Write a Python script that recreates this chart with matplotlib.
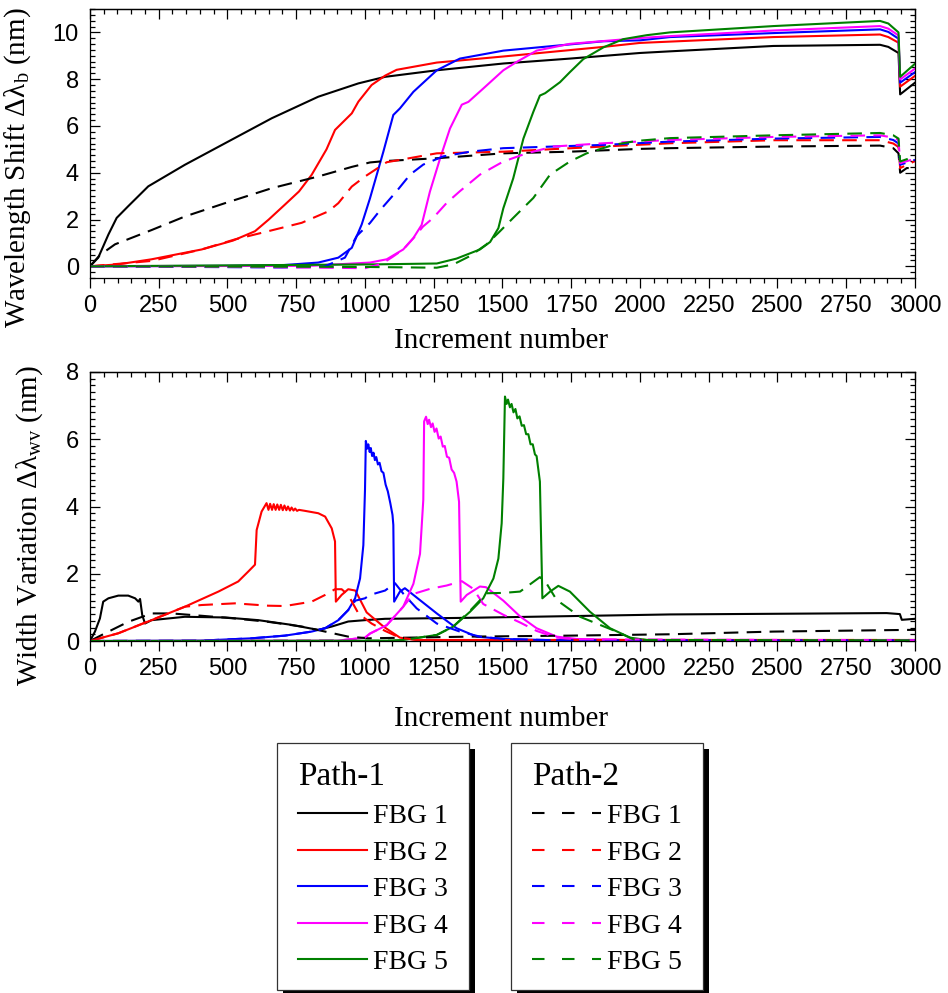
import matplotlib
matplotlib.use('Agg')
import matplotlib.pyplot as plt
from matplotlib.ticker import MultipleLocator
from matplotlib.patches import Rectangle
from matplotlib.lines import Line2D

plt.rcParams['font.family'] = 'Liberation Sans'
plt.rcParams['mathtext.fontset'] = 'custom'
plt.rcParams['mathtext.rm'] = 'Liberation Serif'
plt.rcParams['mathtext.it'] = 'Liberation Serif:italic'

colors = ['black', 'red', 'blue', 'magenta', 'green']
fbg_labels = ['FBG 1', 'FBG 2', 'FBG 3', 'FBG 4', 'FBG 5']

# ---------------- Wavelength shift, Path-1 (solid) ----------------
shift_p1_fbg1 = [(0, 0), (30, 0.37), (67, 1.36), (97, 2.07), (139, 2.57), (212, 3.42), (345, 4.34),
                 (491, 5.26), (661, 6.33), (830, 7.25), (976, 7.82), (1073, 8.1), (1261, 8.38),
                 (1503, 8.67), (1745, 8.88), (2000, 9.12), (2109, 9.19), (2485, 9.42), (2873, 9.47),
                 (2903, 9.38), (2940, 9.12), (2946, 7.35), (3000, 7.85)]
shift_p1_fbg2 = [(0, 0), (100, 0.08), (224, 0.3), (406, 0.72), (520, 1.1), (600, 1.5), (650, 2.0),
                 (709, 2.64), (760, 3.2), (806, 3.91), (860, 5.0), (891, 5.83), (952, 6.54),
                 (976, 7.04), (1024, 7.75), (1073, 8.15), (1115, 8.4), (1261, 8.71), (1503, 8.97),
                 (1867, 9.38), (2000, 9.55), (2485, 9.8), (2873, 9.91), (2903, 9.8), (2940, 9.56),
                 (2946, 7.68), (3000, 8.14)]
shift_p1_fbg3 = [(0, 0), (500, 0.02), (700, 0.05), (830, 0.16), (903, 0.37), (952, 0.79), (988, 1.79),
                 (1018, 2.9), (1040, 3.8), (1067, 4.91), (1103, 6.47), (1127, 6.75), (1176, 7.46),
                 (1261, 8.38), (1345, 8.88), (1503, 9.22), (1867, 9.62), (2000, 9.66), (2109, 9.8),
                 (2485, 9.97), (2873, 10.13), (2903, 10.02), (2940, 9.73), (2946, 7.85), (3000, 8.3)]
shift_p1_fbg4 = [(0, 0), (800, 0.02), (1018, 0.16), (1079, 0.3), (1139, 0.72), (1176, 1.21),
                 (1206, 1.77), (1236, 3.19), (1273, 4.61), (1309, 5.89), (1352, 6.91), (1376, 7.03),
                 (1430, 7.6), (1503, 8.38), (1552, 8.74), (1624, 9.22), (1745, 9.51), (2000, 9.76),
                 (2109, 9.84), (2485, 10.08), (2873, 10.27), (2903, 10.16), (2940, 9.87),
                 (2946, 7.99), (3000, 8.45)]
shift_p1_fbg5 = [(0, 0), (1018, 0.08), (1261, 0.12), (1333, 0.33), (1418, 0.72), (1455, 1.04),
                 (1485, 1.63), (1503, 2.48), (1539, 3.76), (1576, 5.46), (1612, 6.6), (1636, 7.3),
                 (1655, 7.4), (1709, 7.87), (1745, 8.3), (1794, 8.86), (1867, 9.36), (1939, 9.71),
                 (2024, 9.88), (2109, 10.0), (2485, 10.27), (2873, 10.49), (2903, 10.38),
                 (2940, 10.0), (2946, 8.1), (3000, 8.66)]

# ---------------- Wavelength shift, Path-2 (dashed) ----------------
shift_p2_fbg1 = [(0, 0), (36, 0.48), (91, 0.94), (224, 1.55), (345, 2.13), (491, 2.7), (661, 3.34),
                 (830, 3.84), (952, 4.25), (1018, 4.44), (1073, 4.5), (1261, 4.62), (1503, 4.83),
                 (1745, 4.9), (2000, 5.02), (2109, 5.05), (2485, 5.12), (2873, 5.16), (2921, 5.05),
                 (2940, 4.83), (2946, 4.0), (2970, 4.2), (3000, 4.2)]
shift_p2_fbg2 = [(0, 0), (224, 0.23), (406, 0.72), (527, 1.15), (648, 1.5), (770, 1.86), (867, 2.35),
                 (903, 2.7), (952, 3.41), (1000, 3.84), (1040, 4.15), (1079, 4.45), (1261, 4.83),
                 (1503, 4.9), (1867, 5.12), (2109, 5.26), (2485, 5.39), (2873, 5.39), (2921, 5.25),
                 (2940, 5.1), (2946, 4.2), (3000, 4.5)]
shift_p2_fbg3 = [(0, 0), (400, -0.03), (700, -0.05), (850, -0.02), (927, 0.37), (970, 1.3),
                 (1018, 1.85), (1055, 2.4), (1115, 3.21), (1164, 3.92), (1212, 4.35), (1285, 4.7),
                 (1382, 4.9), (1503, 5.05), (1867, 5.19), (2109, 5.33), (2485, 5.46), (2873, 5.53),
                 (2921, 5.4), (2940, 5.25), (2946, 4.34), (3000, 4.55)]
shift_p2_fbg4 = [(0, 0), (600, -0.03), (1000, -0.08), (1060, 0.1), (1100, 0.4), (1139, 0.72),
                 (1176, 1.2), (1211, 1.7), (1248, 2.07), (1297, 2.71), (1345, 3.21), (1418, 3.92),
                 (1503, 4.48), (1588, 4.83), (1685, 5.12), (1867, 5.26), (2109, 5.4), (2485, 5.53),
                 (2873, 5.6), (2921, 5.5), (2940, 5.4), (2946, 4.41), (3000, 4.6)]
shift_p2_fbg5 = [(0, 0), (800, -0.02), (1018, -0.03), (1261, -0.06), (1321, 0.08), (1382, 0.44),
                 (1442, 0.94), (1491, 1.5), (1539, 2.07), (1612, 2.92), (1673, 3.92), (1745, 4.48),
                 (1806, 4.83), (1903, 5.19), (1988, 5.36), (2109, 5.48), (2485, 5.6), (2873, 5.7),
                 (2921, 5.6), (2940, 5.46), (2946, 4.48), (3000, 4.7)]

# ---------------- Width variation, Path-1 (solid) ----------------
width_p1_fbg1 = [(0, 0), (18, 0.28), (36, 0.67), (48, 1.17), (67, 1.27), (103, 1.35), (139, 1.35),
                 (164, 1.27), (176, 1.17), (182, 1.25), (190, 0.77), (200, 0.52), (224, 0.62),
                 (345, 0.72), (491, 0.7), (612, 0.62), (733, 0.48), (830, 0.33), (879, 0.43),
                 (939, 0.58), (1000, 0.62), (1073, 0.66), (1382, 0.69), (2109, 0.79), (2897, 0.83),
                 (2945, 0.8), (2952, 0.63), (3000, 0.66)]
width_p1_fbg2 = [(0, 0), (103, 0.23), (224, 0.62), (345, 1.02), (467, 1.47), (539, 1.77), (576, 2.07),
                 (600, 2.27), (606, 3.3), (624, 3.85), (642, 4.1), (649, 3.9), (655, 4.08), (662, 3.9),
                 (668, 4.07), (675, 3.9), (681, 4.06), (688, 3.9), (694, 4.05), (701, 3.89),
                 (707, 4.03), (714, 3.89), (720, 4.0), (727, 3.88), (733, 3.97), (740, 3.88),
                 (746, 3.94), (753, 3.87), (760, 3.9), (782, 3.87), (830, 3.8), (855, 3.7),
                 (879, 3.35), (891, 2.96), (894, 1.17), (915, 1.37), (939, 1.54), (965, 1.5),
                 (1006, 0.85), (1067, 0.43), (1127, 0.1), (1188, 0.03), (3000, 0.03)]
width_p1_fbg3 = [(0, 0), (400, 0.01), (588, 0.08), (709, 0.16), (806, 0.28), (855, 0.38), (903, 0.62),
                 (939, 0.92), (964, 1.27), (982, 1.86), (994, 2.85), (1000, 4.5), (1003, 5.95),
                 (1008, 5.72), (1012, 5.85), (1017, 5.62), (1021, 5.74), (1026, 5.5), (1031, 5.6),
                 (1036, 5.38), (1041, 5.47), (1047, 5.25), (1053, 5.3), (1060, 5.05), (1067, 5.0),
                 (1075, 4.65), (1083, 4.45), (1092, 4.1), (1100, 3.75), (1103, 3.45), (1106, 1.17),
                 (1127, 1.47), (1145, 1.57), (1176, 1.37), (1261, 0.82), (1333, 0.38), (1406, 0.13),
                 (1503, 0.06), (1700, 0.02), (3000, 0.02)]
width_p1_fbg4 = [(0, 0), (900, 0.01), (1000, 0.1), (1018, 0.22), (1079, 0.47), (1139, 1.02),
                 (1176, 1.7), (1200, 2.59), (1212, 4.2), (1215, 6.53), (1222, 6.67), (1228, 6.45),
                 (1233, 6.58), (1240, 6.36), (1246, 6.47), (1253, 6.22), (1260, 6.32), (1268, 6.02),
                 (1275, 6.08), (1283, 5.78), (1290, 5.8), (1298, 5.48), (1306, 5.45), (1315, 5.1),
                 (1324, 5.0), (1333, 4.74), (1342, 4.14), (1348, 1.17), (1370, 1.37), (1418, 1.62),
                 (1440, 1.6), (1503, 1.2), (1564, 0.73), (1624, 0.38), (1697, 0.13), (1770, 0.06),
                 (2000, 0.02), (3000, 0.02)]
width_p1_fbg5 = [(0, 0), (1100, 0.01), (1139, 0.03), (1261, 0.18), (1321, 0.43), (1382, 0.87),
                 (1430, 1.27), (1467, 1.86), (1485, 2.45), (1497, 3.5), (1503, 4.83), (1509, 7.27),
                 (1515, 7.05), (1520, 7.18), (1527, 6.95), (1533, 7.05), (1540, 6.8), (1547, 6.9),
                 (1554, 6.62), (1562, 6.68), (1570, 6.4), (1578, 6.42), (1586, 6.15), (1594, 6.15),
                 (1602, 5.85), (1610, 5.85), (1618, 5.55), (1624, 5.5), (1636, 4.74), (1645, 1.27),
                 (1673, 1.47), (1703, 1.64), (1745, 1.47), (1818, 0.87), (1891, 0.38), (1964, 0.1),
                 (2024, 0.03), (3000, 0.02)]

# ---------------- Width variation, Path-2 (dashed) ----------------
width_p2_fbg1 = [(0, 0), (55, 0.23), (139, 0.57), (224, 0.82), (297, 0.82), (406, 0.75), (527, 0.67),
                 (648, 0.57), (770, 0.43), (855, 0.28), (939, 0.13), (1012, 0.08), (1382, 0.13),
                 (1745, 0.16), (2109, 0.2), (2485, 0.28), (2970, 0.33), (3000, 0.33)]
width_p2_fbg2 = [(0, 0), (103, 0.23), (345, 1.02), (406, 1.07), (527, 1.12), (648, 1.05), (709, 1.04),
                 (806, 1.17), (855, 1.37), (891, 1.54), (915, 1.54), (939, 1.37), (976, 0.82),
                 (1024, 0.52), (1073, 0.3), (1127, 0.1), (1188, 0.03), (3000, 0.03)]
width_p2_fbg3 = [(0, 0), (400, 0.01), (588, 0.08), (709, 0.16), (806, 0.28), (855, 0.38), (903, 0.62),
                 (939, 0.92), (965, 1.2), (1000, 1.27), (1018, 1.37), (1073, 1.5), (1109, 1.72),
                 (1140, 1.4), (1188, 0.97), (1261, 0.52), (1345, 0.28), (1418, 0.13), (1503, 0.06),
                 (1700, 0.02), (3000, 0.02)]
width_p2_fbg4 = [(0, 0), (900, 0.01), (1000, 0.1), (1018, 0.22), (1079, 0.47), (1139, 1.02),
                 (1176, 1.4), (1236, 1.55), (1297, 1.65), (1352, 1.78), (1394, 1.55), (1430, 1.1),
                 (1503, 0.78), (1564, 0.55), (1624, 0.3), (1697, 0.1), (1770, 0.05), (3000, 0.02)]
width_p2_fbg5 = [(0, 0), (1100, 0.01), (1139, 0.03), (1261, 0.18), (1321, 0.43), (1382, 0.9),
                 (1442, 1.42), (1503, 1.43), (1564, 1.47), (1636, 1.9), (1661, 1.7), (1697, 1.22),
                 (1782, 0.72), (1842, 0.52), (1915, 0.28), (1976, 0.05), (2024, 0.03), (3000, 0.02)]

shift_p1 = [shift_p1_fbg1, shift_p1_fbg2, shift_p1_fbg3, shift_p1_fbg4, shift_p1_fbg5]
shift_p2 = [shift_p2_fbg1, shift_p2_fbg2, shift_p2_fbg3, shift_p2_fbg4, shift_p2_fbg5]
width_p1 = [width_p1_fbg1, width_p1_fbg2, width_p1_fbg3, width_p1_fbg4, width_p1_fbg5]
width_p2 = [width_p2_fbg1, width_p2_fbg2, width_p2_fbg3, width_p2_fbg4, width_p2_fbg5]

DASH = (7, 4)
W, H = 948, 993
fig = plt.figure(figsize=(W / 100, H / 100), dpi=100)

ax1 = fig.add_axes([90 / W, 1 - 278 / H, 825 / W, 269 / H])
ax2 = fig.add_axes([90 / W, 1 - 641 / H, 825 / W, 269 / H])


def draw(ax, curves, dashed):
    for curve, c in zip(curves, colors):
        xs, ys = zip(*curve)
        line, = ax.plot(xs, ys, color=c, lw=1.5)
        if dashed:
            line.set_dashes(DASH)


def style(ax, ylim, ymajor, yminor):
    ax.set_xlim(0, 3000)
    ax.set_ylim(*ylim)
    ax.xaxis.set_major_locator(MultipleLocator(250))
    ax.xaxis.set_minor_locator(MultipleLocator(50))
    ax.yaxis.set_major_locator(MultipleLocator(ymajor))
    ax.yaxis.set_minor_locator(MultipleLocator(yminor))
    ax.tick_params(axis='x', which='both', direction='out', top=False, labelsize=17, pad=5)
    ax.tick_params(axis='y', which='both', direction='in', left=True, right=True, labelsize=17, pad=8)
    ax.tick_params(which='major', length=7, width=0.9)
    ax.tick_params(which='minor', length=3.5, width=0.9)
    for s in ax.spines.values():
        s.set_linewidth(0.9)
    sec = ax.secondary_xaxis('top')
    sec.xaxis.set_major_locator(MultipleLocator(250))
    sec.xaxis.set_minor_locator(MultipleLocator(50))
    sec.tick_params(which='both', direction='in', labeltop=False)
    sec.tick_params(which='major', length=7, width=0.9)
    sec.tick_params(which='minor', length=3.5, width=0.9)
    sec.spines['top'].set_linewidth(0.9)
    ax.set_xlabel('Increment number', family='Liberation Serif', fontsize=21)


draw(ax1, shift_p1, False)
draw(ax1, shift_p2, True)
draw(ax2, width_p1, False)
draw(ax2, width_p2, True)

style(ax1, (-0.5, 11), 2, 0.25)
style(ax2, (0, 8), 2, 0.2)

ax1.set_ylabel('Wavelength Shift $\\mathrm{Δλ_b}$ (nm)', family='Liberation Serif', fontsize=21)
ax2.set_ylabel('Width Variation $\\mathrm{Δλ_{wv}}$ (nm)', family='Liberation Serif', fontsize=21)
ax1.yaxis.set_label_coords(-0.069, 0.41)
ax2.yaxis.set_label_coords(-0.055, 0.43)
ax1.xaxis.set_label_coords(0.498, -0.186)
ax2.xaxis.set_label_coords(0.498, -0.242)

# ---------------- Legend boxes ----------------
lax = fig.add_axes([0, 0, 1, 1])
lax.set_xlim(0, W)
lax.set_ylim(H, 0)
lax.axis('off')

boxes = [(277, 'Path-1', False), (511, 'Path-2', True)]
for x0, title, dashed in boxes:
    lax.add_patch(Rectangle((x0 + 6, 749), 192, 250, facecolor='black', edgecolor='none'))
    lax.add_patch(Rectangle((x0, 743), 192, 247, facecolor='white', edgecolor='#333333', lw=0.9))
    lax.text(x0 + 21, 785, title, family='Liberation Serif', fontsize=24, va='baseline')
    for i, (c, lab) in enumerate(zip(colors, fbg_labels)):
        y = 813 + 36.6 * i
        ln = Line2D([x0 + 21, x0 + 90], [y, y], color=c, lw=1.5)
        if dashed:
            ln.set_dashes((6, 8.4))
        lax.add_line(ln)
        lax.text(x0 + 96, y + 10, lab, family='Liberation Serif', fontsize=20, va='baseline')

fig.savefig('out.png', dpi=100)
